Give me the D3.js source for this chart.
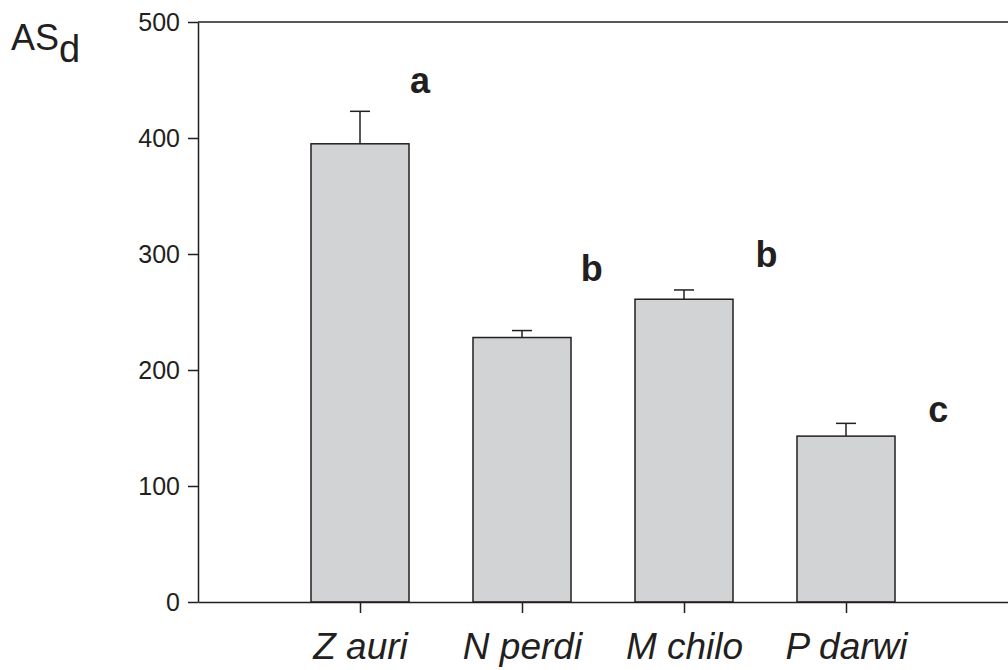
<!DOCTYPE html>
<html>
<head>
<meta charset="utf-8">
<script src="https://cdn.jsdelivr.net/npm/d3@7"></script>
<style>
	body { margin: 0; background: #fff; }
	svg { display: block; font-family: "Liberation Sans", Arial, sans-serif; }
</style>
</head>
<body>
<svg id="chart" width="1008" height="670"></svg>
<script>
/*	Data ----------------------------------------------------------------------*/
var species = ["Z auri", "N perdi", "M chilo", "P darwi"];
var means = [395, 228, 261, 143];
var errTop = [423, 234, 269, 154];
var groups = ["a", "b", "b", "c"];
/*	letter placement in data units (category slot, value) -----------------*/
var letterX = [1.37, 2.43, 3.51, 4.57];
var letterY = [439, 277, 289, 155];
var yTicks = [0, 100, 200, 300, 400, 500];

var ink = "#231f20";
var svg = d3.select("#chart");

var x = d3.scaleLinear().domain([0, 5]).range([198, 1008]);
var y = d3.scaleLinear().domain([0, 500]).range([602, 22]);
var barW = x(0.605) - x(0);

/*	Bars ----------------------------------------------------------------------*/
svg.append("g").selectAll("rect")
	.data(means)
	.enter()
	.append("rect")
	.attr("x", function(d, i){ return x(i + 1) - barW / 2; })
	.attr("y", function(d){ return y(d); })
	.attr("width", barW)
	.attr("height", function(d){ return y(0) - y(d); })
	.style("fill", "#d2d3d5")
	.style("stroke", ink)
	.style("stroke-width", "1.5");

/*	Error bars (upper only) ----------------------------------------------------*/
var err = svg.append("g").selectAll("g")
	.data(errTop)
	.enter()
	.append("g");
err.append("line")
	.attr("x1", function(d, i){ return x(i + 1); })
	.attr("x2", function(d, i){ return x(i + 1); })
	.attr("y1", function(d, i){ return y(means[i]); })
	.attr("y2", function(d){ return y(d); })
	.style("stroke", ink)
	.style("stroke-width", "1.5");
err.append("line")
	.attr("x1", function(d, i){ return x(i + 1) - 10; })
	.attr("x2", function(d, i){ return x(i + 1) + 10; })
	.attr("y1", function(d){ return y(d); })
	.attr("y2", function(d){ return y(d); })
	.style("stroke", ink)
	.style("stroke-width", "1.5");

/*	Axes ------------------------------------------------------------------------*/
var yAxis = svg.append("g")
	.attr("transform", "translate(" + x(0) + ",0)")
	.call(d3.axisLeft(y).tickValues(yTicks).tickSize(10).tickSizeOuter(0).tickPadding(8));
var xAxis = svg.append("g")
	.attr("transform", "translate(0," + y(0) + ")")
	.call(d3.axisBottom(x).tickValues([1, 2, 3, 4])
		.tickFormat(function(d){ return species[d - 1]; })
		.tickSize(11).tickSizeOuter(0).tickPadding(20));

svg.selectAll(".domain, .tick line")
	.style("stroke", ink)
	.style("stroke-width", "1.5");
yAxis.selectAll(".tick text")
	.style("font-size", "25px")
	.style("fill", ink);
xAxis.selectAll(".tick text")
	.style("font-size", "37px")
	.style("font-style", "italic")
	.style("fill", ink);

/*	Top frame line --------------------------------------------------------------*/
svg.append("line")
	.attr("x1", x(0)).attr("x2", x(5))
	.attr("y1", y(500)).attr("y2", y(500))
	.style("stroke", ink)
	.style("stroke-width", "1.5");

/*	Group letters --------------------------------------------------------------*/
svg.append("g").selectAll("text")
	.data(groups)
	.enter()
	.append("text")
	.attr("x", function(d, i){ return x(letterX[i]); })
	.attr("y", function(d, i){ return y(letterY[i]); })
	.attr("text-anchor", "middle")
	.style("font-size", "36px")
	.style("font-weight", "bold")
	.style("fill", ink)
	.text(function(d){ return d; });

/*	Y label AS with subscript d ------------------------------------------------*/
var lab = svg.append("text")
	.attr("x", 11)
	.attr("y", 50)
	.style("font-size", "36px")
	.style("fill", ink);
lab.append("tspan").text("AS");
lab.append("tspan").attr("dy", 12).style("font-size", "38px").text("d");
</script>
</body>
</html>
